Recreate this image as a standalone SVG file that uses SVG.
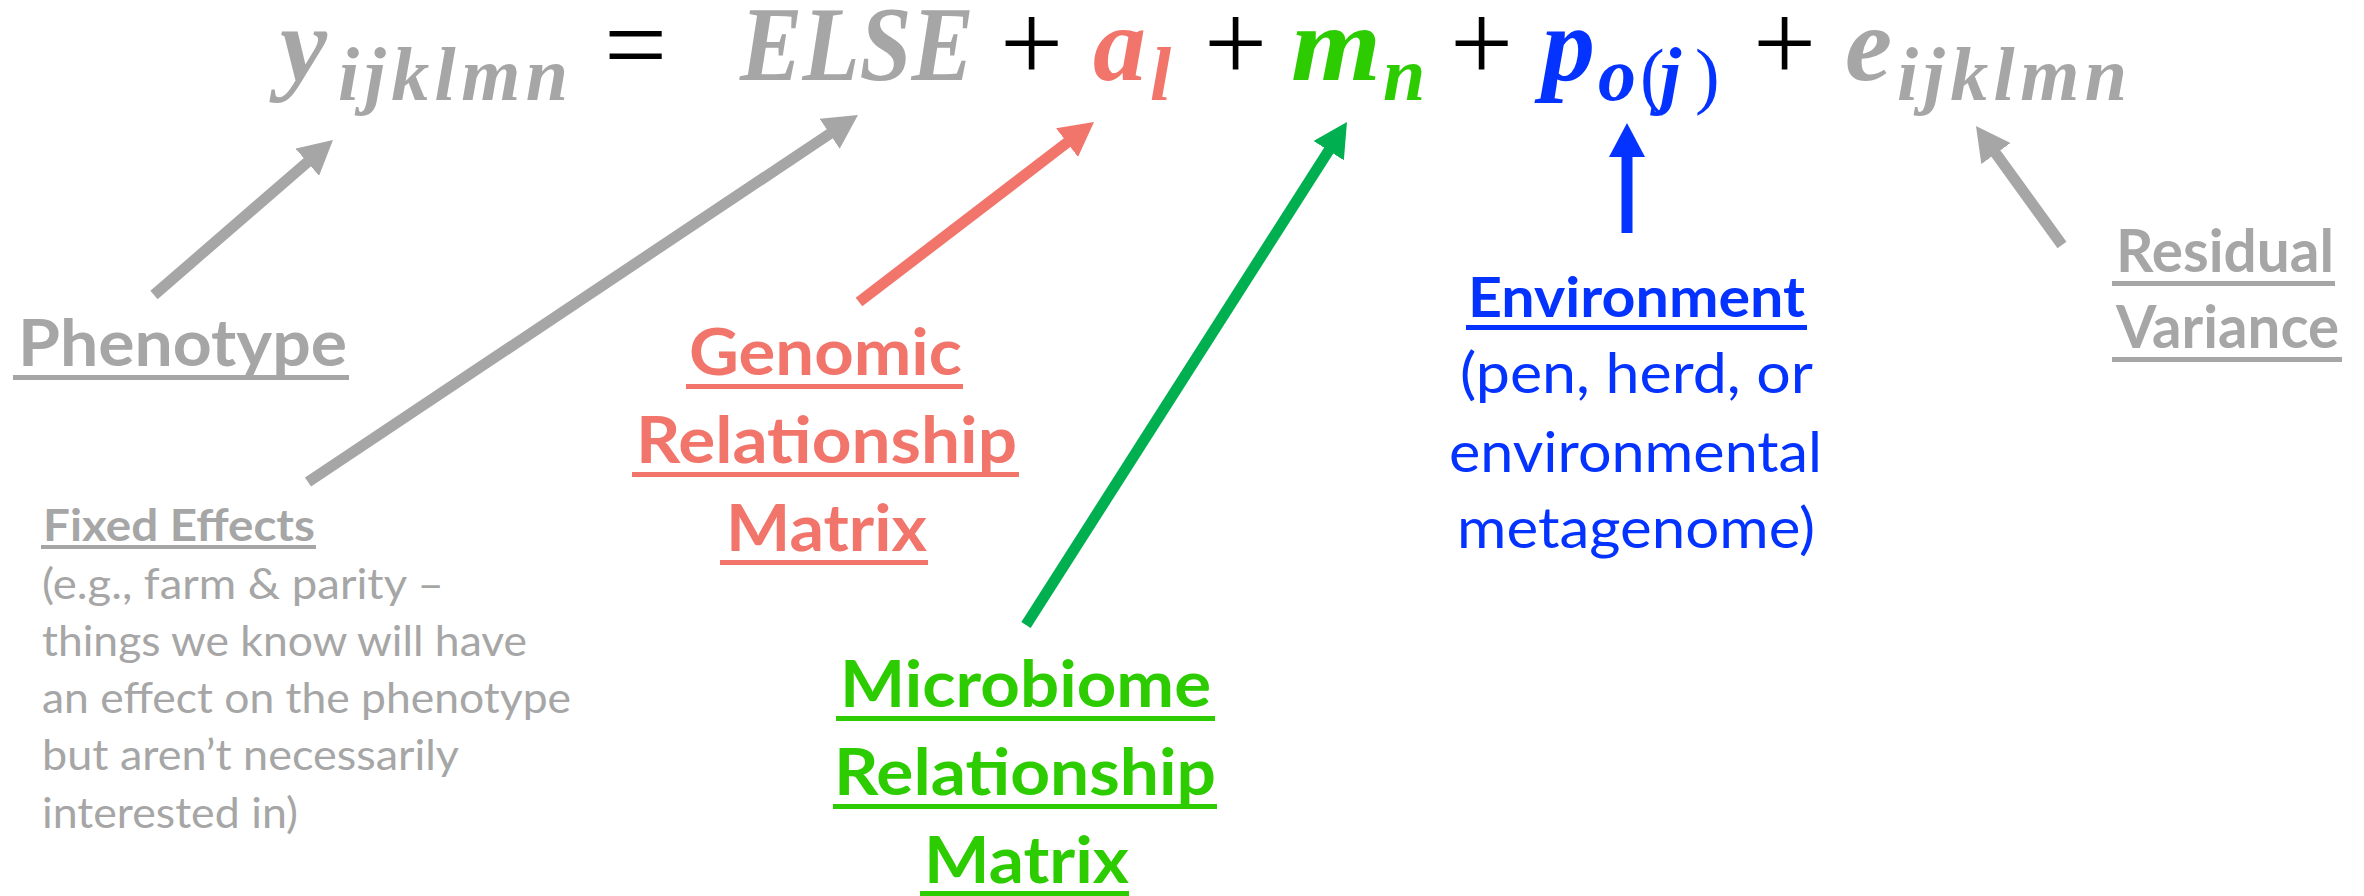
<svg xmlns="http://www.w3.org/2000/svg" width="2364" height="896" viewBox="0 0 2364 896">
<style>
.m{font-family:"Liberation Serif","Times New Roman",serif;font-weight:bold;font-style:italic;font-size:106px}
.s{font-family:"Liberation Serif","Times New Roman",serif;font-weight:bold;font-style:italic;font-size:76px}
.op{font-family:"Liberation Serif","Times New Roman",serif;font-size:112px;fill:#000}
.par{font-family:"Liberation Serif","Times New Roman",serif;font-size:74px;font-style:normal;font-weight:normal}
.big{font-family:Lato,"Liberation Sans",sans-serif;font-weight:bold;font-size:65px}
.mid{font-family:Lato,"Liberation Sans",sans-serif;font-weight:bold;font-size:56px}
.res{font-family:Lato,"Liberation Sans",sans-serif;font-weight:bold;font-size:60px}
.midr{font-family:Lato,"Liberation Sans",sans-serif;font-weight:normal;font-size:56px}
.sm{font-family:Lato,"Liberation Sans",sans-serif;font-weight:bold;font-size:43px}
.smr{font-family:Lato,"Liberation Sans",sans-serif;font-weight:normal;font-size:43px}
.gray{fill:#A6A6A6}.red{fill:#F1756B}.grn{fill:#2DCC00}.blu{fill:#0433FF}
.ar{fill:none;stroke-width:11}
</style>
<defs>
<marker id="hg" markerUnits="userSpaceOnUse" markerWidth="36" markerHeight="36" refX="6" refY="18" orient="auto"><path d="M0,0 L34,18 L0,36 Z" fill="#A6A6A6"/></marker>
<marker id="hr" markerUnits="userSpaceOnUse" markerWidth="36" markerHeight="36" refX="6" refY="18" orient="auto"><path d="M0,0 L34,18 L0,36 Z" fill="#F1756B"/></marker>
<marker id="hgr" markerUnits="userSpaceOnUse" markerWidth="36" markerHeight="36" refX="6" refY="18" orient="auto"><path d="M0,0 L34,18 L0,36 Z" fill="#00B050"/></marker>
<marker id="hb" markerUnits="userSpaceOnUse" markerWidth="36" markerHeight="36" refX="6" refY="18" orient="auto"><path d="M0,0 L34,18 L0,36 Z" fill="#0433FF"/></marker>
</defs>
<rect width="2364" height="896" fill="#fff"/>

<g id="equation">
<text class="m gray" x="280" y="80">y</text>
<text class="s gray" x="338" y="100" textLength="230" lengthAdjust="spacing">ijklmn</text>
<text class="op" x="604" y="82">=</text>
<text class="m gray" x="740" y="80" textLength="234" lengthAdjust="spacingAndGlyphs">ELSE</text>
<text class="op" x="1000" y="81">+</text>
<text class="m red" x="1093" y="80">a</text>
<text class="s red" x="1150" y="100">l</text>
<text class="op" x="1204" y="81">+</text>
<text class="m grn" x="1291" y="80" textLength="90" lengthAdjust="spacingAndGlyphs">m</text>
<text class="s grn" x="1383" y="100">n</text>
<text class="op" x="1450" y="81">+</text>
<text class="m blu" x="1542" y="80">p</text>
<text class="s blu" x="1598" y="100">o<tspan class="par" x="1640">(</tspan><tspan x="1660">j</tspan><tspan class="par" x="1695">)</tspan></text>
<text class="op" x="1753" y="81">+</text>
<text class="m gray" x="1845" y="80">e</text>
<text class="s gray" x="1897" y="100" textLength="230" lengthAdjust="spacing">ijklmn</text>
</g>

<g id="connectors">
<line class="ar" stroke="#A6A6A6" x1="154" y1="295" x2="311.8" y2="158.3" marker-end="url(#hg)"/>
<line class="ar" stroke="#A6A6A6" x1="308" y1="482" x2="834.7" y2="130.5" marker-end="url(#hg)"/>
<line class="ar" stroke="#F1756B" x1="859" y1="302" x2="1071.8" y2="139" marker-end="url(#hr)"/>
<line class="ar" stroke="#00B050" x1="1026" y1="625" x2="1331.9" y2="145.6" marker-end="url(#hgr)"/>
<line class="ar" stroke="#0433FF" stroke-width="12" x1="1627" y1="233" x2="1627" y2="151" marker-end="url(#hb)"/>
<line class="ar" stroke="#A6A6A6" x1="2062" y1="245" x2="1992.4" y2="148.7" marker-end="url(#hg)"/>
</g>

<g id="phenotype">
<text class="big gray" x="18" y="366" textLength="329" lengthAdjust="spacingAndGlyphs">Phenotype</text>
<rect class="gray" x="13" y="375" width="336" height="5"/>
</g>

<g id="fixed-effects">
<text class="sm gray" x="43" y="541" textLength="272" lengthAdjust="spacingAndGlyphs">Fixed Effects</text>
<rect class="gray" x="41" y="545" width="275" height="4"/>
<text class="smr gray" x="42" y="599" textLength="402" lengthAdjust="spacingAndGlyphs">(e.g., farm &amp; parity –</text>
<text class="smr gray" x="42" y="656" textLength="485" lengthAdjust="spacingAndGlyphs">things we know will have</text>
<text class="smr gray" x="42" y="713" textLength="529" lengthAdjust="spacingAndGlyphs">an effect on the phenotype</text>
<text class="smr gray" x="42" y="770" textLength="417" lengthAdjust="spacingAndGlyphs">but aren’t necessarily</text>
<text class="smr gray" x="42" y="828" textLength="256" lengthAdjust="spacingAndGlyphs">interested in)</text>
</g>

<g id="genomic">
<text class="big red" x="689" y="375" textLength="273" lengthAdjust="spacingAndGlyphs">Genomic</text>
<rect class="red" x="686" y="384" width="277" height="5"/>
<text class="big red" x="636" y="463" textLength="381" lengthAdjust="spacingAndGlyphs">Relationship</text>
<rect class="red" x="632" y="472" width="387" height="5"/>
<text class="big red" x="726" y="551" textLength="201" lengthAdjust="spacingAndGlyphs">Matrix</text>
<rect class="red" x="720" y="560" width="208" height="5"/>
</g>

<g id="microbiome">
<text class="big grn" x="840" y="707" textLength="371" lengthAdjust="spacingAndGlyphs">Microbiome</text>
<rect class="grn" x="836" y="716" width="379" height="5"/>
<text class="big grn" x="834" y="795" textLength="382" lengthAdjust="spacingAndGlyphs">Relationship</text>
<rect class="grn" x="833" y="804" width="384" height="5"/>
<text class="big grn" x="924" y="883" textLength="205" lengthAdjust="spacingAndGlyphs">Matrix</text>
<rect class="grn" x="920" y="891" width="209" height="5"/>
</g>

<g id="environment">
<text class="mid blu" x="1468" y="317" textLength="337" lengthAdjust="spacingAndGlyphs">Environment</text>
<rect class="blu" x="1466" y="325" width="341" height="5"/>
<text class="midr blu" x="1460" y="393" textLength="353" lengthAdjust="spacingAndGlyphs">(pen, herd, or</text>
<text class="midr blu" x="1449" y="472" textLength="373" lengthAdjust="spacingAndGlyphs">environmental</text>
<text class="midr blu" x="1457" y="548" textLength="358" lengthAdjust="spacingAndGlyphs">metagenome)</text>
</g>

<g id="residual">
<text class="res gray" x="2116" y="272" textLength="218" lengthAdjust="spacingAndGlyphs">Residual</text>
<rect class="gray" x="2112" y="281" width="223" height="5"/>
<text class="res gray" x="2116" y="348" textLength="223" lengthAdjust="spacingAndGlyphs">Variance</text>
<rect class="gray" x="2112" y="357" width="230" height="5"/>
</g>
</svg>
